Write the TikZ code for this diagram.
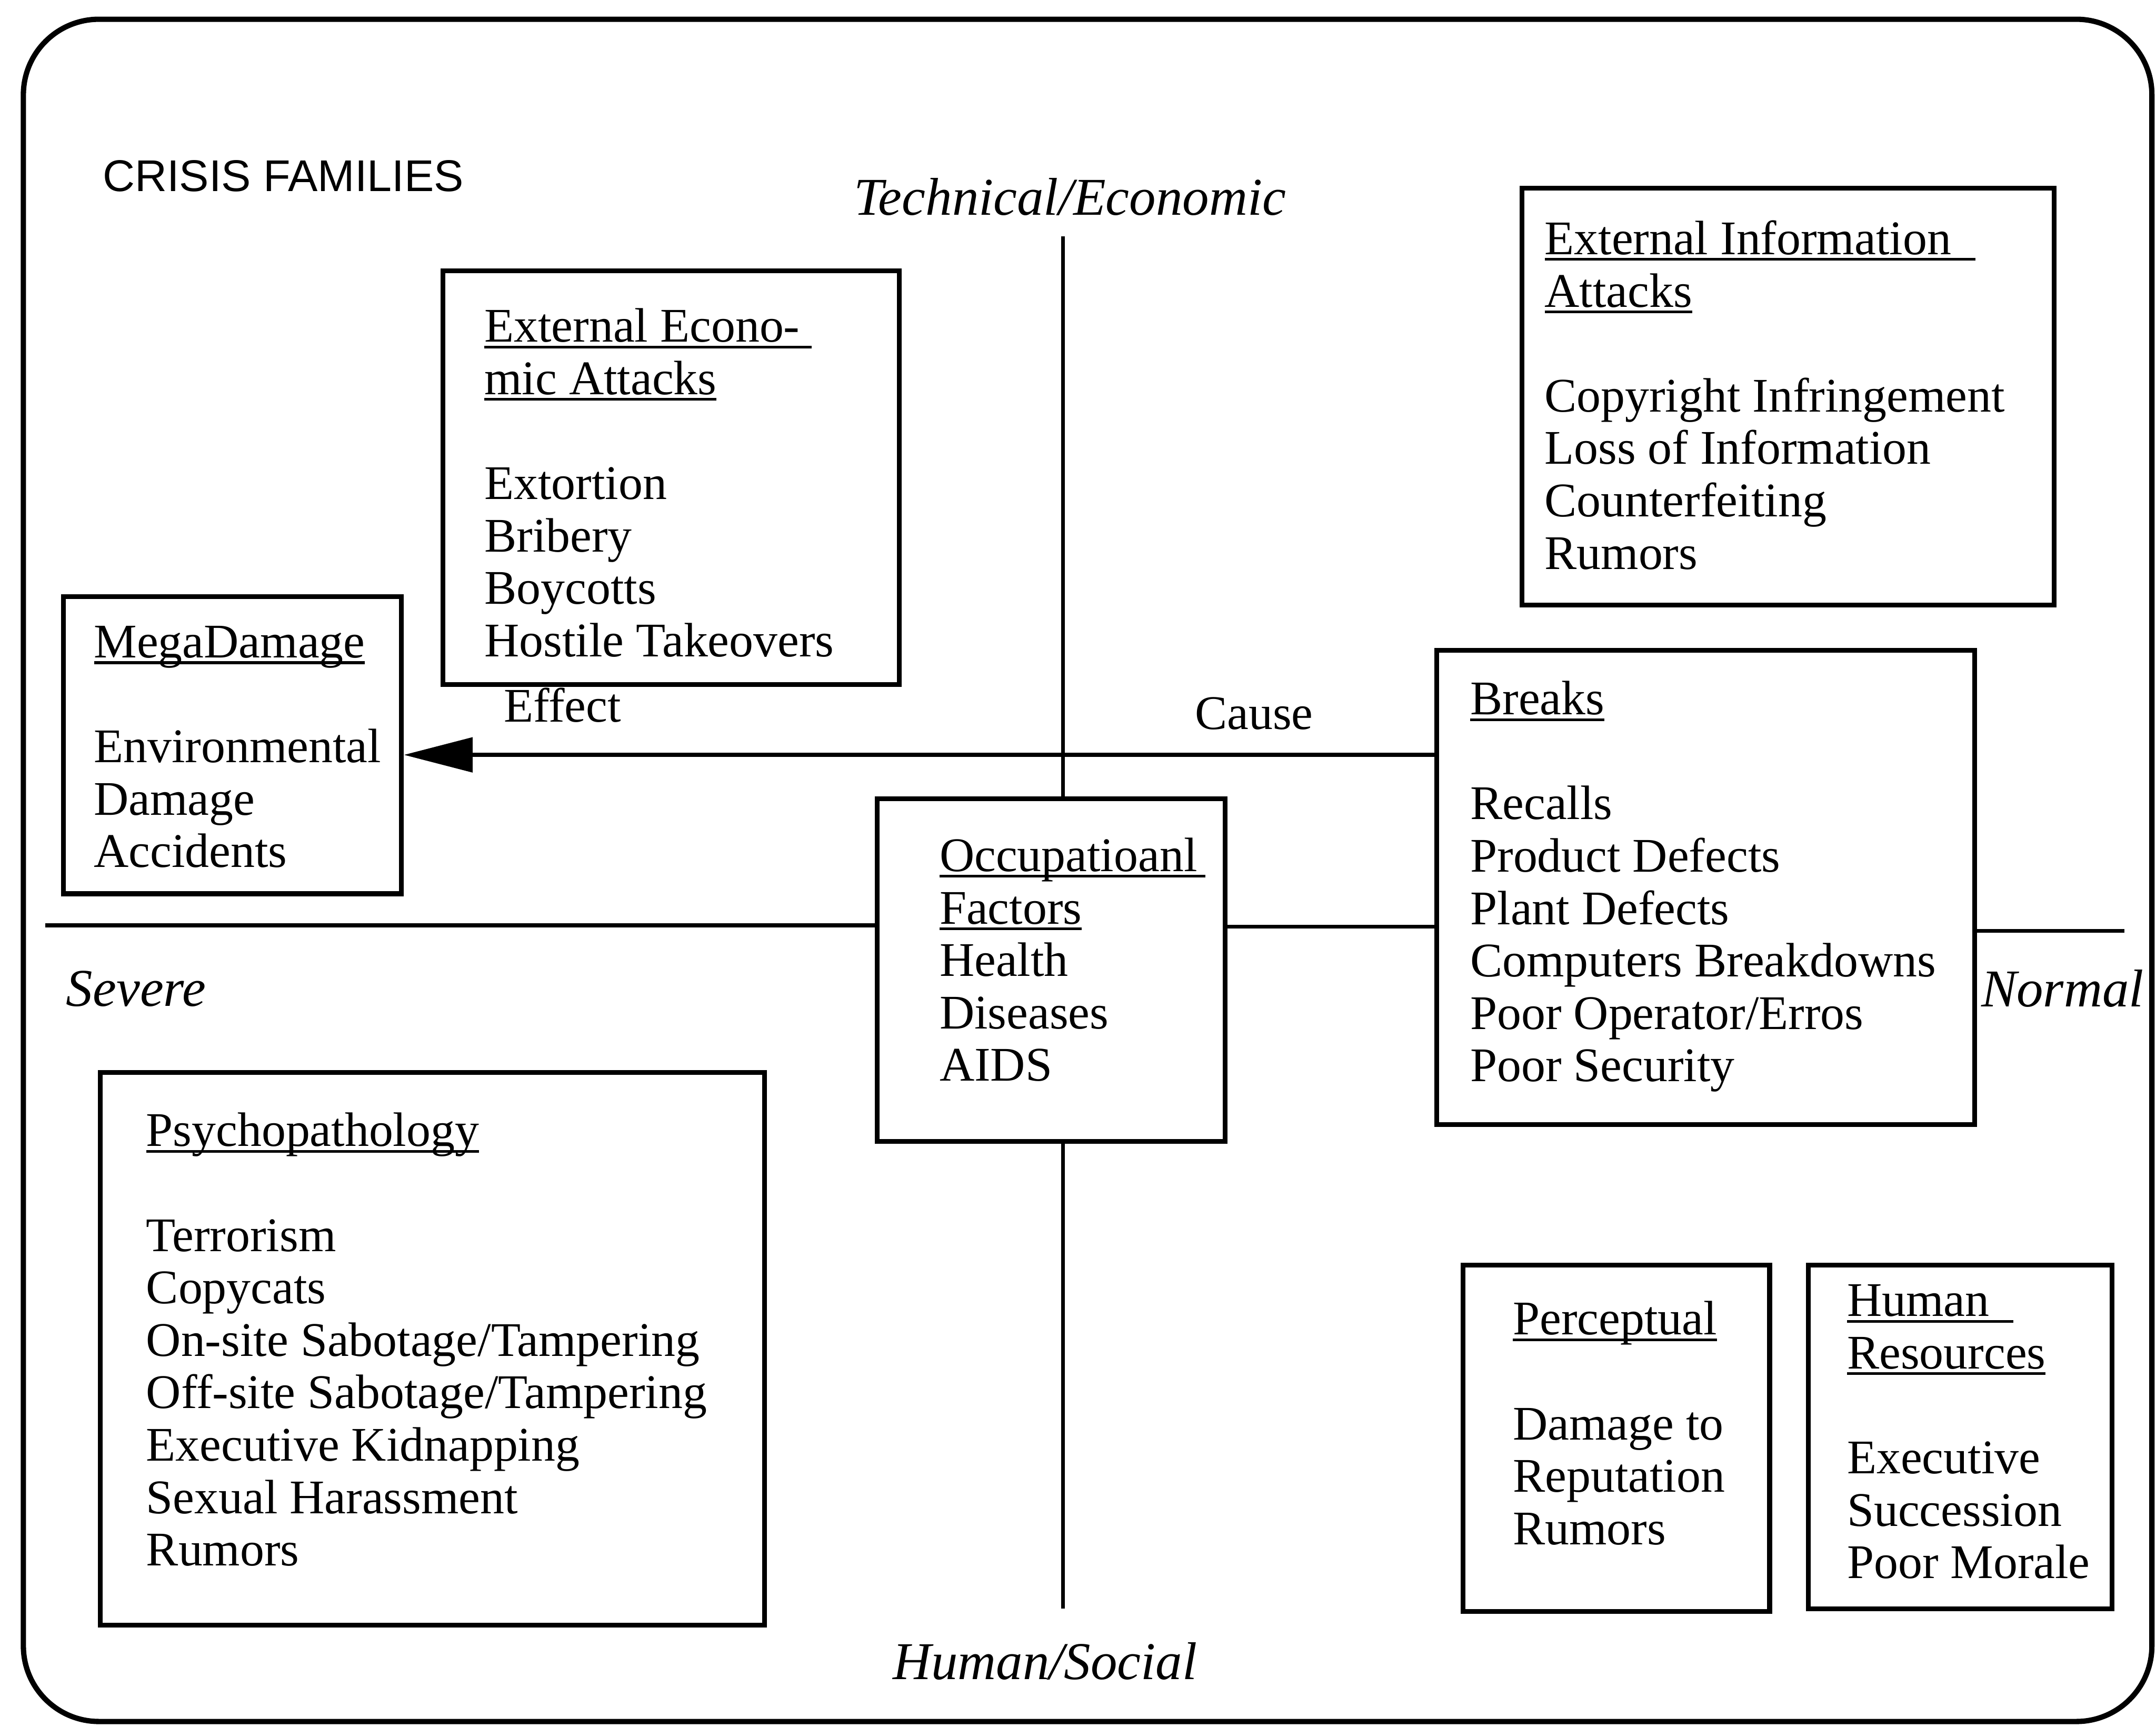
\documentclass[tikz,border=0pt]{standalone}
\usepackage{fontspec}
\setmainfont{Liberation Serif}
\newfontfamily\headfont{Liberation Sans}
\usetikzlibrary{arrows.meta,fit}
% underline drawn just below the baseline, crossing descenders
\newcommand\famul[1]{\setbox0\hbox{#1}\rlap{\rule[-2.6pt]{\wd0}{1.1pt}}\box0}
\begin{document}
\begin{tikzpicture}[x=0.02cm,y=-0.02cm,
  fambox/.style={draw, line width=2pt, inner sep=0pt},
  famtext/.style={anchor=north west, inner sep=0pt, align=left,
    font=\fontsize{20}{21.7}\selectfont},
  plain/.style={inner sep=0pt, font=\fontsize{20}{21.7}\selectfont},
  axislabel/.style={inner sep=0pt, font=\fontsize{22}{24}\selectfont\itshape},
  axis/.style={line width=1.6pt},
]
\useasboundingbox (0,0) rectangle (1568,1256);

% outer frame
\draw[line width=2.2pt, rounded corners=1.1cm] (17,14) rectangle (1565,1252);

% headings and axis labels
\node[inner sep=0pt, font=\headfont\fontsize{18.4}{20}\selectfont] (title) at (206,128) {CRISIS FAMILIES};
\node[axislabel] (tech) at (778,143) {Technical/Economic};
\node[axislabel] (human) at (760,1208) {Human/Social};
\node[axislabel] (severe) at (99,719) {Severe};
\node[axislabel] (normal) at (1500,719) {Normal};

% family boxes
\node[fambox, fit={(322,197) (654,498)}] (econ) {};
\node[fambox, fit={(46,434) (292,650)}] (mega) {};
\node[fambox, fit={(1107,137) (1494,440)}] (info) {};
\node[fambox, fit={(1045,473) (1436,818)}] (breaks) {};
\node[fambox, fit={(638,581) (891,830)}] (occ) {};
\node[fambox, fit={(73,780) (556,1182)}] (psycho) {};
\node[fambox, fit={(1064,920) (1287,1172)}] (perc) {};
\node[fambox, fit={(1315,920) (1536,1170)}] (hr) {};

% box contents
\node[famtext] (econT) at (352,224) {\famul{External Econo-\ }\\ \famul{mic Attacks}\\[21.7pt]
  Extortion\\ Bribery\\ Boycotts\\ Hostile Takeovers};
\node[famtext] (megaT) at (68,455) {\famul{MegaDamage}\\[21.7pt]
  Environmental\\ Damage\\ Accidents};
\node[famtext] (infoT) at (1123,160) {\famul{External Information\ \ }\\ \famul{Attacks}\\[21.7pt]
  Copyright Infringement\\ Loss of Information\\ Counterfeiting\\ Rumors};
\node[famtext] (breaksT) at (1069,495) {\famul{Breaks}\\[21.7pt]
  Recalls\\ Product Defects\\ Plant Defects\\ Computers Breakdowns\\ Poor Operator/Erros\\ Poor Security};
\node[famtext] (occT) at (683,609) {\famul{Occupatioanl\,}\\ \famul{Factors}\\
  Health\\ Diseases\\ AIDS};
\node[famtext] (psychoT) at (106,809) {\famul{Psychopathology}\\[21.7pt]
  Terrorism\\ Copycats\\ On-site Sabotage/Tampering\\ Off-site Sabotage/Tampering\\
  Executive Kidnapping\\ Sexual Harassment\\ Rumors};
\node[famtext] (percT) at (1100,946) {\famul{Perceptual}\\[21.7pt]
  Damage to\\ Reputation\\ Rumors};
\node[famtext] (hrT) at (1343,934) {\famul{Human\ \ }\\ \famul{Resources}\\[21.7pt]
  Executive\\ Succession\\ Poor Morale};

% axes
\coordinate (vtop) at (773,172);
\coordinate (vbot) at (773,1170);
\coordinate (hleft) at (33,673);
\coordinate (hmid) at (0,674);
\coordinate (hright) at (1545,677);
\draw[axis] (vtop) -- (occ.north -| vtop);
\draw[axis] (occ.south -| vbot) -- (vbot);
\draw[axis] (hleft) -- (occ.west |- hleft);
\draw[axis] (occ.east |- hmid) -- (breaks.west |- hmid);
\draw[axis] (breaks.east |- hright) -- (hright);

% cause -> effect arrow
\coordinate (ay) at (0,549);
\draw[axis, -{Triangle[length=1cm,width=0.5cm]}] (breaks.west |- ay) -- (mega.east |- ay);
\node[plain] (effect) at (409,513) {Effect};
\node[plain] (cause) at (912,519) {Cause};
\end{tikzpicture}
\end{document}
